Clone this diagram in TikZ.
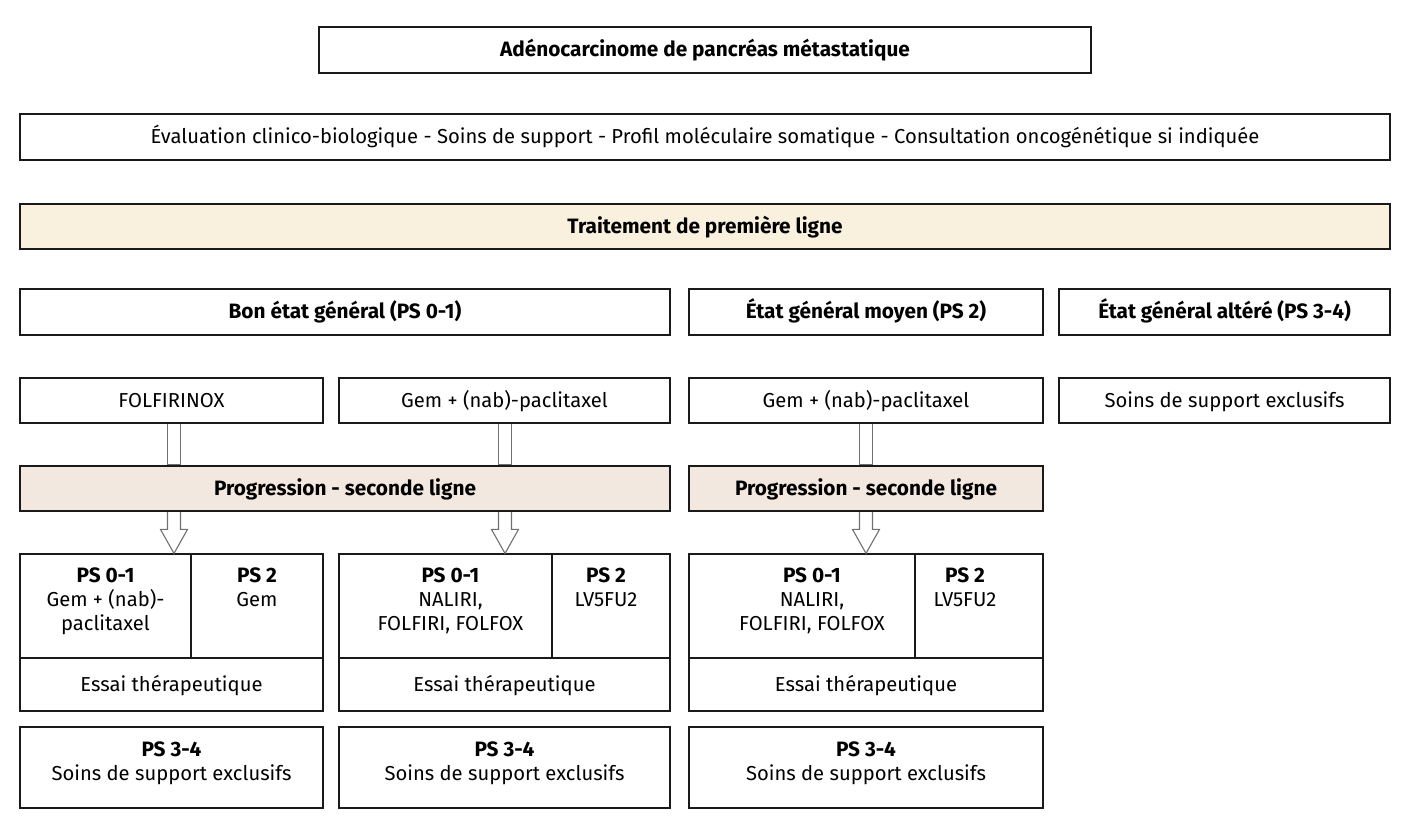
\documentclass[tikz,border=0pt]{standalone}
\usepackage{fontspec}
\setmainfont{Fira Sans}
\usetikzlibrary{fit,calc}
\definecolor{lineC}{HTML}{1A1A1A}
\definecolor{arrC}{HTML}{707070}
\definecolor{creamC}{HTML}{F9F1DE}
\definecolor{peachC}{HTML}{F3E8E0}
\newcommand\regf{\fontsize{20.2}{24}\selectfont}
\newcommand\bldf{\fontsize{20.8}{24}\selectfont\bfseries}
\begin{document}
\begin{tikzpicture}[x=1pt,y=-1pt,
  box/.style={draw=lineC, line width=1.2pt, fill=white, inner sep=0pt},
  lbl/.style={inner sep=0pt, anchor=base, font=\regf},
  blbl/.style={inner sep=0pt, anchor=base, font=\bldf},
  txt/.style={inner sep=0pt, align=center, anchor=north, font=\regf},
  shaft/.style={draw=arrC, line width=1.1pt, fill=white, line join=miter}
]
\useasboundingbox (0,0) rectangle (1414,824);

\node[box, fit={(319,27)(1091,73)}] (title) {};
\node[box, fit={(20,114)(1390,160)}] (eval) {};
\node[box, fill=creamC, fit={(20,204)(1390,249)}] (trait) {};
\node[box, fit={(20,289)(670,335)}] (bon) {};
\node[box, fit={(689,289)(1043,335)}] (moyen) {};
\node[box, fit={(1059,289)(1390,335)}] (altere) {};
\node[box, fit={(20,378)(323,423)}] (folf) {};
\node[box, fit={(339,378)(670,423)}] (gemA) {};
\node[box, fit={(689,378)(1043,423)}] (gemB) {};
\node[box, fit={(1059,378)(1390,423)}] (soins) {};
\node[box, fill=peachC, fit={(20,466)(670,511)}] (progA) {};
\node[box, fill=peachC, fit={(689,466)(1043,511)}] (progB) {};

\node[blbl] (ttitle) at ($(title.center)+(0,6.5)$) {Adénocarcinome de pancréas métastatique};
\node[lbl] (teval) at ($(eval.center)+(0,6.5)$) {Évaluation clinico-biologique - Soins de support - Profil moléculaire somatique - Consultation oncogénétique si indiquée};
\node[blbl] (ttrait) at ($(trait.center)+(0,6.5)$) {Traitement de première ligne};
\node[blbl] (tbon) at ($(bon.center)+(0,6.5)$) {Bon état général (PS 0-1)};
\node[blbl] (tmoyen) at ($(moyen.center)+(0,6.5)$) {État général moyen (PS 2)};
\node[blbl] (taltere) at ($(altere.center)+(0,6.5)$) {État général altéré (PS 3-4)};
\node[lbl] (tfolf) at ($(folf.center)+(0,6.5)$) {FOLFIRINOX};
\node[lbl] (tgemA) at ($(gemA.center)+(0,6.5)$) {Gem + (nab)-paclitaxel};
\node[lbl] (tgemB) at ($(gemB.center)+(0,6.5)$) {Gem + (nab)-paclitaxel};
\node[lbl] (tsoins) at ($(soins.center)+(0,6.5)$) {Soins de support exclusifs};
\node[blbl] (tprogA) at ($(progA.center)+(0,6.5)$) {Progression - seconde ligne};
\node[blbl] (tprogB) at ($(progB.center)+(0,6.5)$) {Progression - seconde ligne};

% bottom left
\node[box, fit={(20,554)(191,658)}] (l01) {};
\node[box, fit={(191,554)(323,658)}] (l2) {};
\node[box, fit={(20,658)(323,711)}] (lessai) {};
\node[box, fit={(20,727)(323,808)}] (l34) {};
% bottom middle
\node[box, fit={(339,554)(552,658)}] (m01) {};
\node[box, fit={(552,554)(670,658)}] (m2) {};
\node[box, fit={(339,658)(670,711)}] (messai) {};
\node[box, fit={(339,727)(670,808)}] (m34) {};
% bottom right
\node[box, fit={(689,554)(915,658)}] (r01) {};
\node[box, fit={(915,554)(1043,658)}] (r2) {};
\node[box, fit={(689,658)(1043,711)}] (ressai) {};
\node[box, fit={(689,727)(1043,808)}] (r34) {};

\node[lbl] (tlessai) at ($(lessai.center)+(0,7)$) {Essai thérapeutique};
\node[lbl] (tmessai) at ($(messai.center)+(0,7)$) {Essai thérapeutique};
\node[lbl] (tressai) at ($(ressai.center)+(0,7)$) {Essai thérapeutique};

% cell texts
\node[txt] (tl01) at ($(l01.north)+(0,14)$) {{\bldf PS 0-1}\\Gem + (nab)-\\paclitaxel};
\node[txt] (tl2) at ($(l2.north)+(0,14)$) {{\bldf PS 2}\\Gem};
\node[txt] (tl34) at ($(l34.north)+(0,15)$) {{\bldf PS 3-4}\\Soins de support exclusifs};

\node[txt] (tm01) at ($(m01.north)+(5,14)$) {{\bldf PS 0-1}\\NALIRI,\\FOLFIRI, FOLFOX};
\node[txt] (tm2) at ($(m2.north)+(-5,14)$) {{\bldf PS 2}\\LV5FU2};
\node[txt] (tm34) at ($(m34.north)+(0,15)$) {{\bldf PS 3-4}\\Soins de support exclusifs};

\node[txt] (tr01) at ($(r01.north)+(10,14)$) {{\bldf PS 0-1}\\NALIRI,\\FOLFIRI, FOLFOX};
\node[txt] (tr2) at ($(r2.north)+(-14,14)$) {{\bldf PS 2}\\LV5FU2};
\node[txt] (tr34) at ($(r34.north)+(0,15)$) {{\bldf PS 3-4}\\Soins de support exclusifs};

% hollow arrows
\foreach \src/\mid/\dst/\dx in {folf/progA/l01/174, gemA/progA/m01/505, gemB/progB/r01/866}{
  \coordinate (a) at (\dx,0 |- \src.south);
  \coordinate (b) at (\dx,0 |- \mid.north);
  \coordinate (c) at (\dx,0 |- \mid.south);
  \coordinate (d) at (\dx,0 |- \dst.north);
  \draw[shaft] ($(a)+(-6.5,0.6)$) -- ($(b)+(-6.5,-0.6)$) -- ($(b)+(6.5,-0.6)$) -- ($(a)+(6.5,0.6)$);
  \draw[shaft] ($(c)+(-6.5,0.6)$) -- ($(d)+(-6.5,-24)$) -- ($(d)+(-13.5,-24)$) -- (d)
     -- ($(d)+(13.5,-24)$) -- ($(d)+(6.5,-24)$) -- ($(c)+(6.5,0.6)$);
}
\end{tikzpicture}
\end{document}
